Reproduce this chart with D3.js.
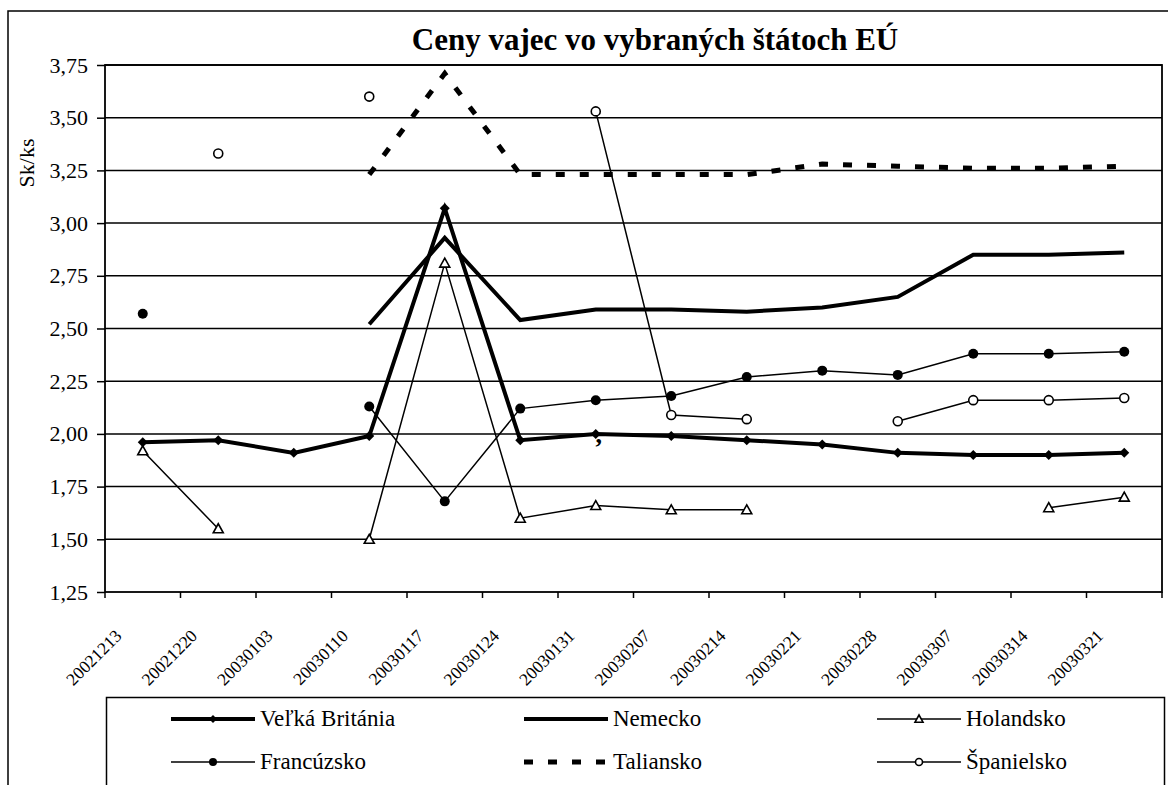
<!DOCTYPE html>
<html>
<head>
<meta charset="utf-8">
<script src="https://cdn.jsdelivr.net/npm/d3@7/dist/d3.min.js"></script>
<style>
  body { margin: 0; background: #fff; }
  svg { display: block; }
  svg text { font-family: "Liberation Serif", "DejaVu Serif", "Noto Serif", serif; fill: #000; }
</style>
</head>
<body>
<script>
// categories (weeks)
const dates = ["20021213", "20021220", "20030103", "20030110", "20030117", "20030124", "20030131",
  "20030207", "20030214", "20030221", "20030228", "20030307", "20030314", "20030321"];
const yTicks = [1.25, 1.5, 1.75, 2.0, 2.25, 2.5, 2.75, 3.0, 3.25, 3.5, 3.75];

// prices, Sk per egg (null = no data)
const britain = [1.96, 1.97, 1.91, 1.99, 3.07, 1.97, 2.00, 1.99, 1.97, 1.95, 1.91, 1.90, 1.90, 1.91];
const germany = [null, null, null, 2.52, 2.93, 2.54, 2.59, 2.59, 2.58, 2.60, 2.65, 2.85, 2.85, 2.86];
const netherlands = [1.92, 1.55, null, 1.50, 2.81, 1.60, 1.66, 1.64, 1.64, null, null, null, 1.65, 1.70];
const france = [2.57, null, null, 2.13, 1.68, 2.12, 2.16, 2.18, 2.27, 2.30, 2.28, 2.38, 2.38, 2.39];
const italy = [null, null, null, 3.23, 3.71, 3.23, 3.23, 3.23, 3.23, 3.28, 3.27, 3.26, 3.26, 3.27];
const spain = [null, 3.33, null, 3.60, null, null, 3.53, 2.09, 2.07, null, 2.06, 2.16, 2.16, 2.17];

const series = [
  { name: "Veľká Británia", values: britain, width: 4, dash: null, marker: "diamond" },
  { name: "Nemecko", values: germany, width: 4, dash: null, marker: null },
  { name: "Holandsko", values: netherlands, width: 1.5, dash: null, marker: "triangle" },
  { name: "Francúzsko", values: france, width: 1.5, dash: null, marker: "dot" },
  { name: "Taliansko", values: italy, width: 5, dash: "9,15", marker: null },
  { name: "Španielsko", values: spain, width: 1.5, dash: null, marker: "circle" }
];

const width = 1168, height = 785;
const plot = { left: 105, right: 1162, top: 65, bottom: 592 };
const serif = '"Liberation Serif", "DejaVu Serif", "Noto Serif", serif';

const svg = d3.select("body").append("svg")
  .attr("width", width)
  .attr("height", height)
  .attr("font-family", serif);

// outer chart frame
svg.append("rect")
  .attr("x", 8).attr("y", 11)
  .attr("width", 1170).attr("height", 800)
  .attr("fill", "none").attr("stroke", "#000").attr("stroke-width", 1.5);

const x = d3.scaleBand().domain(dates).range([plot.left, plot.right]);
const cx = d => x(d) + x.bandwidth() / 2;
const y = d3.scaleLinear().domain([1.25, 3.75]).range([plot.bottom, plot.top]);

// gridlines
svg.append("g").selectAll("line")
  .data(yTicks.slice(1))
  .join("line")
  .attr("x1", plot.left).attr("x2", plot.right)
  .attr("y1", d => y(d)).attr("y2", d => y(d))
  .attr("stroke", "#000").attr("stroke-width", 1.5);

// plot border
svg.append("rect")
  .attr("x", plot.left).attr("y", plot.top)
  .attr("width", plot.right - plot.left).attr("height", plot.bottom - plot.top)
  .attr("fill", "none").attr("stroke", "#000").attr("stroke-width", 1.8);

// y axis
const yAxis = svg.append("g")
  .attr("transform", `translate(${plot.left},0)`)
  .call(d3.axisLeft(y).tickValues(yTicks).tickSize(8).tickPadding(9)
    .tickFormat(d => d3.format(".2f")(d).replace(".", ",")));
yAxis.attr("font-family", serif).attr("font-size", 22);
yAxis.select(".domain").remove();
yAxis.selectAll(".tick line").attr("stroke", "#000").attr("stroke-width", 1.5);
yAxis.selectAll(".tick text")
  .attr("dy", null).attr("y", 7);

svg.append("text")
  .attr("transform", "translate(34,163) rotate(-90)")
  .attr("text-anchor", "middle")
  .style("font-size", "22px")
  .text("Sk/ks");

// x axis ticks at category borders
svg.append("g").selectAll("line")
  .data(dates.map(d => x(d)).concat([plot.right]))
  .join("line")
  .attr("x1", d => d).attr("x2", d => d)
  .attr("y1", plot.bottom).attr("y2", plot.bottom + 6)
  .attr("stroke", "#000").attr("stroke-width", 1.5);

svg.append("g").selectAll("text")
  .data(dates)
  .join("text")
  .attr("transform", d => `translate(${cx(d) - 20},637) rotate(-45)`)
  .attr("text-anchor", "end")
  .style("font-size", "17.5px")
  .text(d => d);

// title
svg.append("text")
  .attr("x", 655).attr("y", 50)
  .attr("text-anchor", "middle")
  .style("font-size", "31px").style("font-weight", "bold")
  .text("Ceny vajec vo vybraných štátoch EÚ");

// markers
function drawMarker(g, type, px, py, s) {
  if (type === "diamond") {
    g.append("path")
      .attr("d", `M${px},${py - s}L${px + s},${py}L${px},${py + s}L${px - s},${py}Z`)
      .attr("fill", "#000");
  } else if (type === "dot") {
    g.append("circle").attr("cx", px).attr("cy", py).attr("r", s).attr("fill", "#000");
  } else if (type === "circle") {
    g.append("circle").attr("cx", px).attr("cy", py).attr("r", s - 0.5)
      .attr("fill", "#fff").attr("stroke", "#000").attr("stroke-width", 1.6);
  } else if (type === "triangle") {
    g.append("path")
      .attr("d", `M${px},${py - s}L${px + s},${py + s * 0.8}L${px - s},${py + s * 0.8}Z`)
      .attr("fill", "#fff").attr("stroke", "#000").attr("stroke-width", 1.6);
  }
}

const line = d3.line()
  .defined(d => d.v != null)
  .x(d => cx(d.date))
  .y(d => y(d.v));

series.forEach(s => {
  const pts = dates.map((date, i) => ({ date: date, v: s.values[i] }));
  const g = svg.append("g");
  g.append("path")
    .datum(pts)
    .attr("d", line)
    .attr("fill", "none")
    .attr("stroke", "#000")
    .attr("stroke-width", s.width)
    .attr("stroke-dasharray", s.dash)
    .attr("stroke-linejoin", "miter");
  if (s.marker) {
    pts.filter(p => p.v != null).forEach(p => {
      drawMarker(g, s.marker, cx(p.date), y(p.v), 5);
    });
  }
});

// stray data label
svg.append("text")
  .attr("x", cx(dates[6]) + 3)
  .attr("y", y(britain[6]) + 9)
  .attr("text-anchor", "middle")
  .style("font-size", "26px").style("font-weight", "bold")
  .text(",");

// legend
const legend = svg.append("g");
legend.append("rect")
  .attr("x", 106.5).attr("y", 697.5)
  .attr("width", 1058).attr("height", 120)
  .attr("fill", "#fff").attr("stroke", "#000").attr("stroke-width", 1.5);

const colX = [171, 524, 877];
const rowY = [719, 762];
series.forEach((s, i) => {
  const lx = colX[i % 3], ly = rowY[Math.floor(i / 3)];
  const g = legend.append("g");
  g.append("line")
    .attr("x1", lx).attr("x2", lx + 84)
    .attr("y1", ly).attr("y2", ly)
    .attr("stroke", "#000")
    .attr("stroke-width", s.width)
    .attr("stroke-dasharray", s.dash);
  if (s.marker) drawMarker(g, s.marker, lx + 42, ly, 4);
  g.append("text")
    .attr("x", lx + 89).attr("y", ly + 7)
    .style("font-size", "23px")
    .text(s.name);
});
</script>
</body>
</html>
